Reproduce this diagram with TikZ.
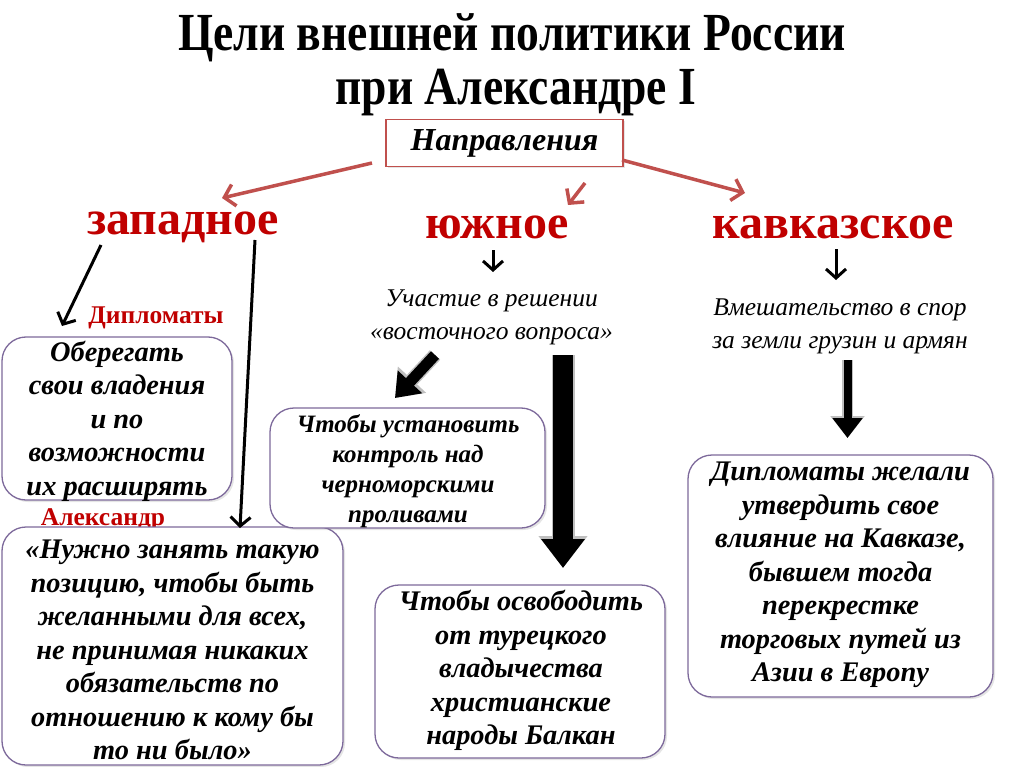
\documentclass[tikz,border=0pt]{standalone}
\usepackage{fontspec}
\setmainfont{Liberation Serif}
\newfontfamily\titlefont[FakeStretch=0.85]{Liberation Serif}
\usetikzlibrary{arrows.meta,shadows,calc}
\definecolor{redline}{RGB}{192,80,77}
\definecolor{redtxt}{RGB}{192,0,0}
\definecolor{boxline}{RGB}{125,105,155}
\begin{document}
\begin{tikzpicture}[x=1pt,y=-1pt,
  goal/.style={draw=boxline, line width=1.3pt, rounded corners=24pt, fill=white,
    inner sep=0pt,
    drop shadow={shadow xshift=2pt, shadow yshift=-2pt, opacity=0.2}},
  bigtxt/.style={align=center, inner sep=0pt, font=\fontsize{28.4}{33.5}\selectfont\bfseries\itshape},
  midtxt/.style={align=center, inner sep=0pt, font=\fontsize{25}{30}\selectfont\bfseries\itshape},
  dirword/.style={font=\fontsize{48}{48}\selectfont\bfseries, text=redtxt},
  redlbl/.style={font=\fontsize{25.5}{25.5}\selectfont\bfseries, text=redtxt},
  subtxt/.style={font=\fontsize{25.5}{33}\selectfont\itshape, align=center},
  titletxt/.style={font=\titlefont\fontsize{53.6}{53.6}\selectfont\bfseries},
  redarrow/.style={draw=redline, line width=3.5pt, -{Straight Barb[length=10pt,width=22pt,line width=3.5pt]}},
  thinarrow/.style={draw=black, line width=3pt, -{Straight Barb[length=9pt,width=20pt,line width=3pt]}},
]
\useasboundingbox (0,0) rectangle (1024,767);
\fill[white] (0,0) rectangle (1024,767);

% title
\node[titletxt] (t1) at (512,38) {Цели внешней политики России};
\node[titletxt] (t2) at (516,93) {при Александре I};

% directions box
\node[draw=redline, line width=1.3pt, fill=white, minimum width=237pt, minimum height=47pt,
  font=\fontsize{32}{32}\selectfont\bfseries\itshape,
  drop shadow={shadow xshift=2pt, shadow yshift=-2pt, opacity=0.2}] (dir) at (504.5,143) {Направления};

% direction words
\node[dirword] (west) at (183,227) {западное};
\node[dirword] (south) at (497,227) {южное};
\node[dirword] (cauc) at (833,227) {кавказское};

% red arrows
\coordinate (dl) at (372,163);
\coordinate (dm) at (585,183);
\coordinate (dr) at (622,160);
\coordinate (wl) at (222,198);
\coordinate (sm) at (568,205);
\coordinate (cr) at (745,193);
\draw[redarrow] (dl) -- (wl);
\draw[redarrow] (dm) -- (sm);
\draw[redarrow] (dr) -- (cr);

% labels
\node[redlbl] (dipl) at (156,318) {Дипломаты};
\node[redlbl] (alex) at (103,520) {Александр};
\node[subtxt] (part) at (491.5,317) {Участие в решении\\«восточного вопроса»};
\node[subtxt] (interv) at (840,326) {Вмешательство в спор\\за земли грузин и армян};

% boxes
\node[goal, minimum width=230pt, minimum height=163pt] (b1) at (117,418.5) {};
\node[bigtxt] (b1t) at (117,421) {Оберегать\\свои владения\\и по\\возможности\\их расширять};
\node[goal, minimum width=341pt, minimum height=238pt] (b2) at (172.5,646) {};
\node[bigtxt] (b2t) at (172.5,650) {«Нужно занять такую\\позицию, чтобы быть\\желанными для всех,\\не принимая никаких\\обязательств по\\отношению к кому бы\\то ни было»};
\node[goal, minimum width=275pt, minimum height=120pt] (b3) at (407.5,468) {};
\node[midtxt] (b3t) at (408,471) {Чтобы установить\\контроль над\\черноморскими\\проливами};
\node[goal, minimum width=290pt, minimum height=173pt] (b4) at (520,671.5) {};
\node[bigtxt] (b4t) at (521,670.5) {Чтобы освободить\\от турецкого\\владычества\\христианские\\народы Балкан};
\node[goal, minimum width=305pt, minimum height=242pt] (b5) at (840.5,576) {};
\node[bigtxt] (b5t) at (840.5,575) {Дипломаты желали\\утвердить свое\\влияние на Кавказе,\\бывшем тогда\\перекрестке\\торговых путей из\\Азии в Европу};

% black thin arrows
\coordinate (w1) at (101,245); \coordinate (w1e) at (62,326);
\coordinate (w2) at (255,240); \coordinate (w2e) at (240,528);
\coordinate (s1) at (493,250); \coordinate (s1e) at (493,272);
\coordinate (c1) at (836,249); \coordinate (c1e) at (836,280);
\draw[thinarrow] (w1) -- (w1e);
\draw[thinarrow] (w2) -- (w2e);
\draw[thinarrow] (s1) -- (s1e);
\draw[thinarrow] (c1) -- (c1e);

% thick arrows
\coordinate (k1) at (435,355); \coordinate (k1e) at (395,398);
\coordinate (k2) at (563,355); \coordinate (k2e) at (563,568);
\coordinate (k3) at (847.5,360); \coordinate (k3e) at (847.5,438);
\draw[draw=black!25, line width=14pt, -{Triangle[length=25pt,width=37pt]}] (k1) -- (k1e);
\draw[draw=black, line width=11pt, -{Triangle[length=22pt,width=32pt]}] (k1) -- (k1e);
\draw[draw=black!25, line width=23pt, -{Triangle[length=32pt,width=47pt]}] (k2) -- (k2e);
\draw[draw=black, line width=20pt, -{Triangle[length=29pt,width=42pt]}] (k2) -- (k2e);
\draw[draw=black!25, line width=11pt, -{Triangle[length=22pt,width=33pt]}] (k3) -- (k3e);
\draw[draw=black, line width=8pt, -{Triangle[length=20pt,width=29pt]}] (k3) -- (k3e);
\end{tikzpicture}
\end{document}
